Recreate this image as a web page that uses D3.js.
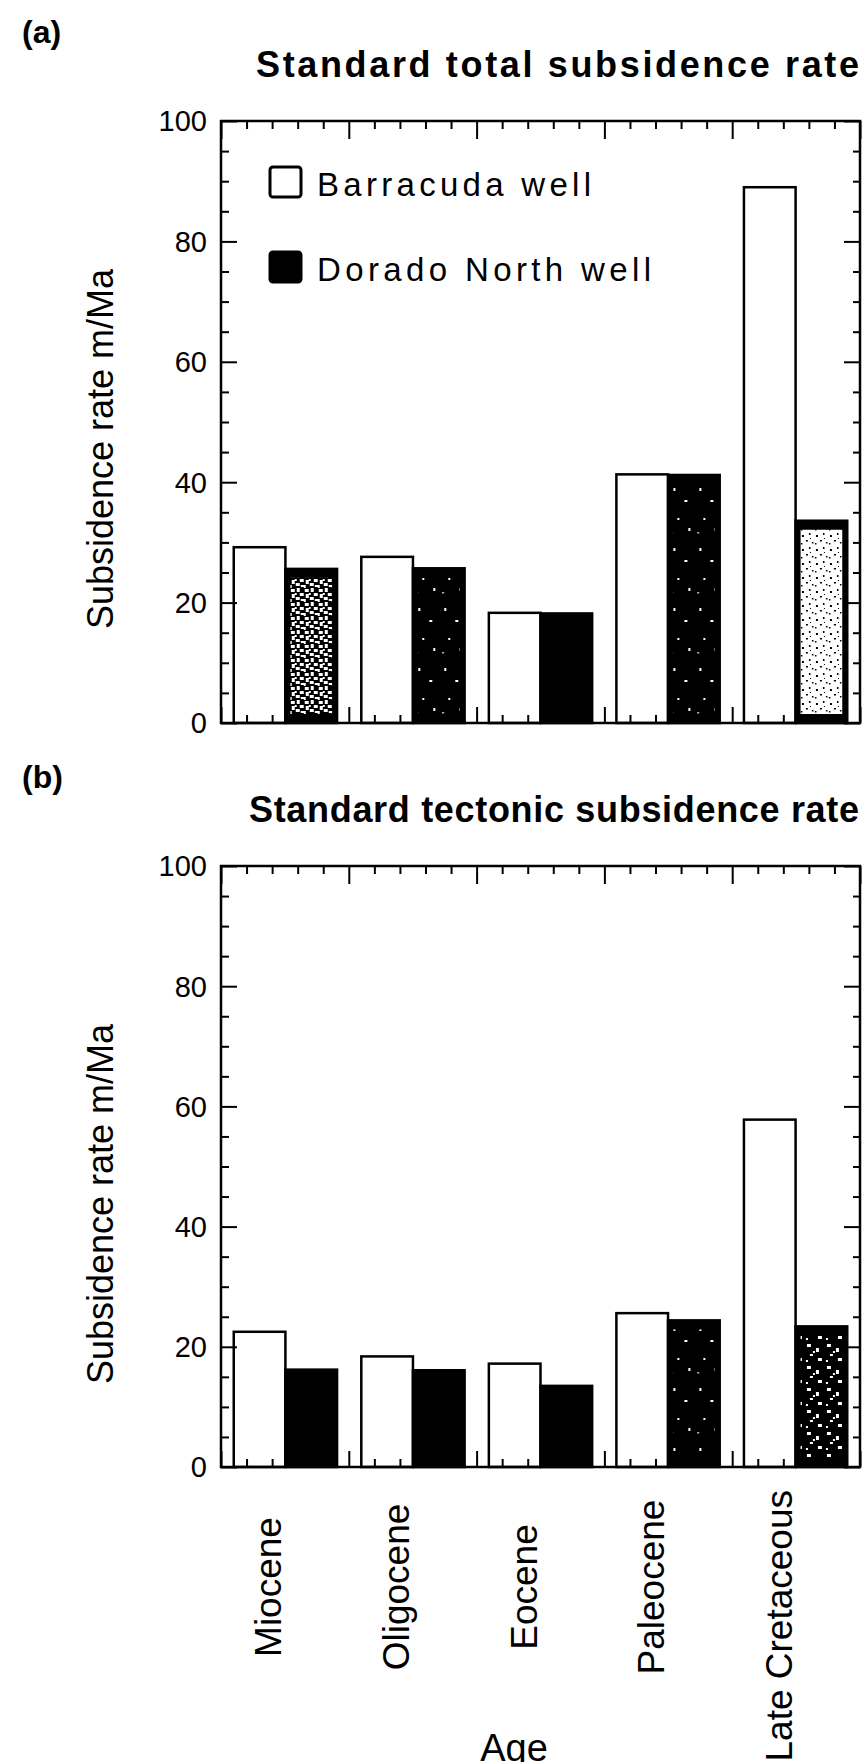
<!DOCTYPE html>
<html>
<head>
<meta charset="utf-8">
<script src="https://cdn.jsdelivr.net/npm/d3@7"></script>
<style>
  html, body { margin: 0; padding: 0; background: #fff; }
  svg { display: block; }
  text { font-family: "Liberation Sans", Arial, Helvetica, sans-serif; fill: #000; }
</style>
</head>
<body>
<script>
// ---------------- data ----------------
const categories = ["Miocene", "Oligocene", "Eocene", "Paleocene", "Late Cretaceous"];
const seriesNames = ["Barracuda well", "Dorado North well"];
const totalBarracuda  = [29.2, 27.6, 18.3, 41.3, 89.0];
const totalDorado     = [25.6, 25.7, 18.2, 41.2, 33.6];
const tectonicBarracuda = [22.5, 18.4, 17.2, 25.6, 57.8];
const tectonicDorado    = [16.2, 16.1, 13.5, 24.4, 23.4];
const yTickValues = [0, 20, 40, 60, 80, 100];
const panelTitles = ["Standard total subsidence rate", "Standard tectonic subsidence rate"];
const panelLetters = ["(a)", "(b)"];
const yAxisTitle = "Subsidence rate m/Ma";
const xAxisTitle = "Age";

// ---------------- styling (not data) ----------------
const W = 865, H = 1762;
const left = 221, right = 860;
const textureA = ["mid", "sparse", null, "sparse", "light"];
const textureB = [null, null, null, "sparse", "sparse2"];

const panels = [
  { top: 121, bottom: 723, b: totalBarracuda, d: totalDorado, tex: textureA,
    title: panelTitles[0], titleX: 256, titleY: 77, titleW: 603,
    letter: panelLetters[0], letterY: 43, yTitleY: 449, legend: true },
  { top: 866, bottom: 1467, b: tectonicBarracuda, d: tectonicDorado, tex: textureB,
    title: panelTitles[1], titleX: 249, titleY: 822, titleW: 610,
    letter: panelLetters[1], letterY: 788, yTitleY: 1204, legend: false }
];

const svg = d3.select("body").append("svg")
  .attr("width", W).attr("height", H)
  .attr("viewBox", `0 0 ${W} ${H}`);

// ---- patterns imitating the scanned stipple texture ----
const defs = svg.append("defs");
function pattern(id, size, bg, fg, dots) {
  const p = defs.append("pattern").attr("id", id)
    .attr("patternUnits", "userSpaceOnUse")
    .attr("width", size[0]).attr("height", size[1]);
  p.append("rect").attr("width", size[0]).attr("height", size[1]).attr("fill", bg);
  dots.forEach(r => p.append("rect").attr("x", r[0]).attr("y", r[1])
    .attr("width", r[2]).attr("height", r[3]).attr("fill", fg));
}
pattern("mid", [14, 14], "#000", "#fff",
  [[1,1,4,3],[7,0,3,4],[10,5,4,3],[2,6,3,4],[6,9,4,3],[0,11,2,3],[11,11,3,2],[5,5,2,2]]);
pattern("light", [14, 14], "#fff", "#000",
  [[2,3,2,2],[9,1,1.5,2],[6,8,2,1.5],[12,10,1.5,1.5],[1,11,1.5,1.5],[10,6,1,1]]);
pattern("sparse", [26, 60], "#000", "#fff",
  [[5,8,2,3],[16,20,3,2],[9,38,2,2],[20,48,2,3],[3,52,1.5,1.5]]);
pattern("sparse2", [20, 22], "#000", "#fff",
  [[3,2,4,3],[12,6,3,4],[6,12,3,2],[14,16,4,3],[2,18,2,2],[9,9,2,2]]);

const x = d3.scaleBand().domain(categories).range([left, right])
  .paddingInner(0.19).paddingOuter(0.1);
const xs = d3.scaleBand().domain(seriesNames).range([0, x.bandwidth()]).padding(0);
const u = d3.scaleLinear().domain([0, categories.length]).range([left, right]);
const majorU = d3.range(0, categories.length + 1);
const minorU = d3.range(0, categories.length * 5 + 1).map(i => i / 5).filter(v => Math.abs(v - Math.round(v)) > 1e-6);
const yMinor = d3.range(0, 101, 5).filter(v => v % 20 !== 0);

panels.forEach((P, pi) => {
  const y = d3.scaleLinear().domain([0, 100]).range([P.bottom, P.top]);
  const g = svg.append("g");

  // panel letter and title
  g.append("text").attr("x", 22).attr("y", P.letterY)
    .attr("font-size", 32).attr("font-weight", "bold").text(P.letter);
  g.append("text").attr("x", P.titleX).attr("y", P.titleY)
    .attr("font-size", 36).attr("font-weight", "bold")
    .attr("textLength", P.titleW).attr("lengthAdjust", "spacing")
    .text(P.title);

  // bars
  const rows = categories.map((c, i) => ({ cat: c, vals: [P.b[i], P.d[i]], tex: P.tex[i] }));
  const grp = g.selectAll("g.grp").data(rows).join("g")
    .attr("transform", r => `translate(${x(r.cat)},0)`);
  grp.each(function (r) {
    const gg = d3.select(this);
    gg.append("rect")
      .attr("x", xs(seriesNames[0])).attr("y", y(r.vals[0]))
      .attr("width", xs.bandwidth()).attr("height", y(0) - y(r.vals[0]))
      .attr("fill", "#fff").attr("stroke", "#000").attr("stroke-width", 2.5);
    gg.append("rect")
      .attr("x", xs(seriesNames[1])).attr("y", y(r.vals[1]))
      .attr("width", xs.bandwidth()).attr("height", y(0) - y(r.vals[1]))
      .attr("fill", "#000").attr("stroke", "#000").attr("stroke-width", 2.5);
    if (r.tex) {
      const inset = 5;
      gg.append("rect")
        .attr("x", xs(seriesNames[1]) + inset).attr("y", y(r.vals[1]) + inset + 4)
        .attr("width", xs.bandwidth() - 2 * inset)
        .attr("height", Math.max(0, y(0) - y(r.vals[1]) - 2 * inset - 8))
        .attr("fill", `url(#${r.tex})`);
    }
  });

  // axes: ticks pointing inward on all four sides
  const axStyle = sel => { sel.select(".domain").remove(); sel.selectAll("line").attr("stroke", "#000").attr("stroke-width", 2); };

  const la = g.append("g").attr("transform", `translate(${left},0)`)
    .call(d3.axisLeft(y).tickValues(yTickValues).tickSize(-16).tickPadding(14).tickFormat(d3.format("d")));
  axStyle(la);
  la.selectAll("text").attr("font-size", 29).attr("font-family", "Liberation Sans, Arial, sans-serif").attr("dy", "0.34em");
  const lm = g.append("g").attr("transform", `translate(${left},0)`)
    .call(d3.axisLeft(y).tickValues(yMinor).tickSize(-8).tickFormat(""));
  axStyle(lm);
  const ra = g.append("g").attr("transform", `translate(${right},0)`)
    .call(d3.axisRight(y).tickValues(yTickValues).tickSize(-16).tickFormat(""));
  axStyle(ra);
  const rm = g.append("g").attr("transform", `translate(${right},0)`)
    .call(d3.axisRight(y).tickValues(yMinor).tickSize(-7).tickFormat(""));
  axStyle(rm);
  const ta = g.append("g").attr("transform", `translate(0,${P.top})`)
    .call(d3.axisTop(u).tickValues(majorU).tickSize(-18).tickFormat(""));
  axStyle(ta);
  const tm = g.append("g").attr("transform", `translate(0,${P.top})`)
    .call(d3.axisTop(u).tickValues(minorU).tickSize(-8).tickFormat(""));
  axStyle(tm);
  const ba = g.append("g").attr("transform", `translate(0,${P.bottom})`)
    .call(d3.axisBottom(u).tickValues(majorU).tickSize(-16).tickFormat(""));
  axStyle(ba);
  const bm = g.append("g").attr("transform", `translate(0,${P.bottom})`)
    .call(d3.axisBottom(u).tickValues(minorU).tickSize(-8).tickFormat(""));
  axStyle(bm);

  // frame
  g.append("rect").attr("x", left).attr("y", P.top)
    .attr("width", right - left).attr("height", P.bottom - P.top)
    .attr("fill", "none").attr("stroke", "#000").attr("stroke-width", 2.5);

  // y axis title
  g.append("text")
    .attr("transform", `translate(113,${P.yTitleY}) rotate(-90)`)
    .attr("text-anchor", "middle").attr("font-size", 36)
    .text(yAxisTitle);

  // legend
  if (P.legend) {
    const lg = g.append("g");
    const items = [
      { name: seriesNames[0], fill: "#fff", y: 167, w: 274 },
      { name: seriesNames[1], fill: "#000", y: 252, w: 334 }
    ];
    items.forEach(it => {
      lg.append("rect").attr("x", 270).attr("y", it.y).attr("width", 31).attr("height", 30)
        .attr("rx", 3).attr("fill", it.fill).attr("stroke", "#000").attr("stroke-width", 3);
      lg.append("text").attr("x", 317).attr("y", it.y + 29)
        .attr("font-size", 33).attr("textLength", it.w).attr("lengthAdjust", "spacing")
        .text(it.name);
    });
  }
});

// x category labels (below panel b)
svg.append("g").selectAll("text").data(categories).join("text")
  .attr("transform", c => {
    const cx = x(c) + x.bandwidth() / 2 - 4;
    return (c.length > 10)
      ? `translate(${cx},1490) rotate(-90)`
      : `translate(${cx},1587) rotate(-90)`;
  })
  .attr("text-anchor", c => c.length > 10 ? "end" : "middle")
  .attr("font-size", 37)
  .text(c => c);

// x axis title
svg.append("text").attr("x", 514).attr("y", 1761)
  .attr("text-anchor", "middle").attr("font-size", 38)
  .text(xAxisTitle);
</script>
</body>
</html>
